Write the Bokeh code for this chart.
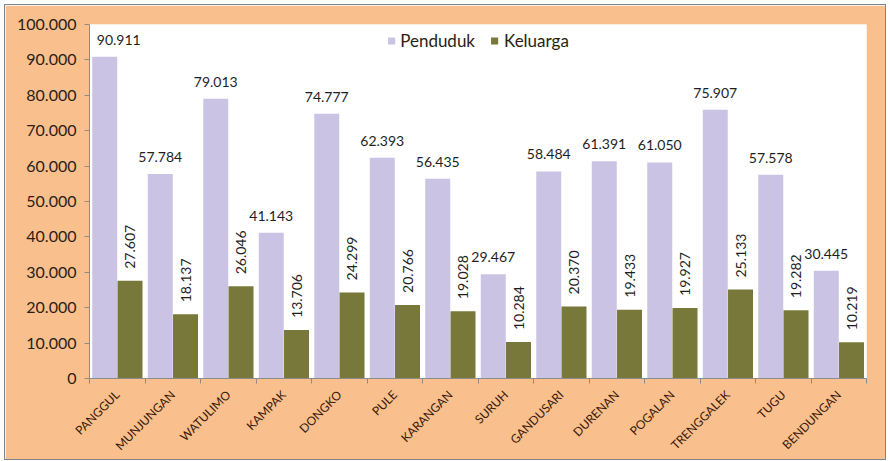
import math
from bokeh.plotting import figure
from bokeh.models import (ColumnDataSource, FixedTicker, CustomJSTickFormatter,
                          Range1d, Legend, LegendItem, LinearAxis)
from bokeh.core.properties import value
from bokeh.embed import file_html
from bokeh.resources import INLINE

categories = ["PANGGUL", "MUNJUNGAN", "WATULIMO", "KAMPAK", "DONGKO", "PULE",
              "KARANGAN", "SURUH", "GANDUSARI", "DURENAN", "POGALAN",
              "TRENGGALEK", "TUGU", "BENDUNGAN"]
penduduk = [90911, 57784, 79013, 41143, 74777, 62393, 56435, 29467, 58484,
            61391, 61050, 75907, 57578, 30445]
keluarga = [27607, 18137, 26046, 13706, 24299, 20766, 19028, 10284, 20370,
            19433, 19927, 25133, 19282, 10219]
y_ticks = [0, 10000, 20000, 30000, 40000, 50000, 60000, 70000, 80000, 90000, 100000]


def fmt(v):
    return f"{v:,}".replace(",", ".")


FONT = "Lato"
ORANGE = "#F9C08E"
LAV = "#CBC3E3"
OLIVE = "#78783A"
TXT = "#2b1d14"

n = len(categories)
idx = list(range(n))
# first label nudged right so it stays inside the plot area (as in the original)
label_dx = [14] + [0] * (n - 1)
src_p = ColumnDataSource(dict(x=[i - 0.225 for i in idx], top=penduduk,
                              lab=[fmt(v) for v in penduduk], dx=label_dx))
src_k = ColumnDataSource(dict(x=[i + 0.23 for i in idx], top=keluarga,
                              lab=[fmt(v) for v in keluarga]))

p = figure(width=882, height=456, output_backend="svg", toolbar_location=None,
           x_range=Range1d(-0.5, n - 0.5), y_range=Range1d(0, 100000),
           min_border_left=84, min_border_right=21, min_border_top=19,
           min_border_bottom=76, x_axis_type=None, y_axis_type=None,
           styles={"margin": "4px 0 0 4px", "border": "1px solid #7a8591"})
p.background_fill_color = "white"
p.border_fill_color = ORANGE
p.outline_line_color = None
p.grid.visible = False

rp = p.vbar(x="x", top="top", width=0.45, source=src_p, fill_color=LAV,
            line_color=None)
rk = p.vbar(x="x", top="top", width=0.45, source=src_k, fill_color=OLIVE,
            line_color=None)

p.text(x="x", y="top", text="lab", source=src_p, text_font=value(FONT),
       text_font_size="14px", text_color="#1e1e1e", text_align="center",
       text_baseline="bottom", y_offset=-12, x_offset="dx")
p.text(x="x", y="top", text="lab", source=src_k, text_font=value(FONT),
       text_font_size="14px", text_color="#1e1e1e", text_align="left",
       text_baseline="middle", angle=math.pi / 2, y_offset=-12)

yax = LinearAxis(ticker=FixedTicker(ticks=y_ticks),
                 formatter=CustomJSTickFormatter(code="""
                     return Math.round(tick).toString().replace(/\\B(?=(\\d{3})+(?!\\d))/g, '.');
                 """))
yax.axis_line_color = "#8c8c8c"
yax.major_tick_line_color = "#8c8c8c"
yax.major_tick_out = 5
yax.major_tick_in = 0
yax.minor_tick_line_color = None
yax.major_label_text_font = FONT
yax.major_label_text_font_size = "16px"
yax.major_label_text_color = TXT
yax.major_label_standoff = 8
p.add_layout(yax, "left")

xax = LinearAxis(ticker=FixedTicker(ticks=idx, minor_ticks=[i - 0.5 for i in range(n + 1)]))
xax.major_label_overrides = {i: c for i, c in zip(idx, categories)}
xax.axis_line_color = "#8c8c8c"
xax.major_tick_line_color = None
xax.minor_tick_line_color = "#8c8c8c"
xax.minor_tick_out = 5
xax.minor_tick_in = 0
xax.major_label_orientation = math.pi / 4
xax.major_label_text_font = FONT
xax.major_label_text_font_size = "12px"
xax.major_label_text_color = "#3a1808"
xax.major_label_standoff = 8
p.add_layout(xax, "below")

legend = Legend(items=[LegendItem(label="Penduduk", renderers=[rp]),
                       LegendItem(label="Keluarga", renderers=[rk])],
                location="top_center", orientation="horizontal")
legend.label_text_font = FONT
legend.label_text_font_size = "17px"
legend.label_text_color = TXT
legend.glyph_width = 9
legend.glyph_height = 9
legend.label_standoff = 5
legend.spacing = 15
legend.padding = 8
legend.margin = 6
legend.border_line_color = None
legend.background_fill_alpha = 0
p.add_layout(legend, "center")

open("out.html", "w").write(file_html(p, INLINE))
